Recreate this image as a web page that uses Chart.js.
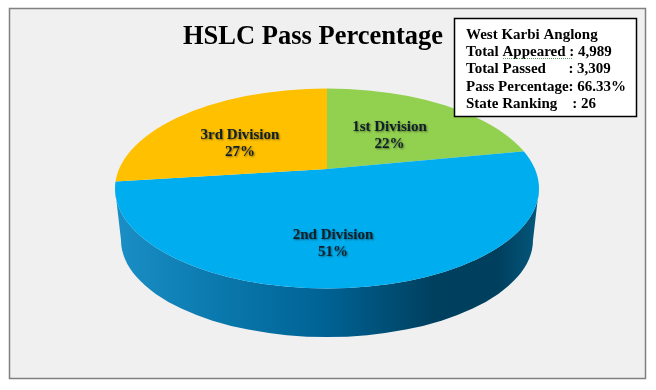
<!DOCTYPE html>
<html>
<head>
<meta charset="utf-8">
<style>
  html, body { margin: 0; padding: 0; background: #fff; }
  canvas { display: block; }
</style>
<script src="https://cdn.jsdelivr.net/npm/chart.js@4"></script>
</head>
<body>
<canvas id="pie-chart" width="656" height="390"></canvas>
<script>
// Datos
const categories = ['1st Division', '2nd Division', '3rd Division'];
const passShare = [22, 51, 27];
const sliceColors = ['#92d050', '#00aeef', '#ffc000'];
const infoLines = [
  'West Karbi Anglong',
  'Total Appeared : 4,989',
  'Total Passed      : 3,309',
  'Pass Percentage: 66.33%',
  'State Ranking    : 26'
];

// The slices meet above the middle of the ellipse, as in a perspective view
const vertex = { x: 327, y: 169 };
const disc = { x: 327, y: 188.5, rx: 212, ry: 100 };
const base = { x: 327, y: 240, rx: 206, ry: 97 };
const squash = 0.47;
// label position relative to the vertex
const labelOffset = [[62.5, -33], [6, 75], [-87, -25]];

const tilted3d = {
  id: 'tilted3d',
  beforeDraw(chart) {
    const ctx = chart.ctx;
    ctx.save();
    ctx.fillStyle = '#f0f0f0';
    ctx.strokeStyle = '#808080';
    ctx.lineWidth = 1.5;
    ctx.fillRect(9.5, 8.5, 636, 370);
    ctx.strokeRect(9.5, 8.5, 636, 370);
    ctx.restore();
  },
  beforeDatasetsDraw(chart) {
    const ctx = chart.ctx;
    const arc = chart.getDatasetMeta(0).data[0];
    // side wall
    const wall = ctx.createLinearGradient(disc.x - disc.rx, 0, disc.x + disc.rx, 0);
    wall.addColorStop(0, '#1a8fc6');
    wall.addColorStop(0.25, '#0a78ac');
    wall.addColorStop(0.5, '#006294');
    wall.addColorStop(0.75, '#00405f');
    wall.addColorStop(0.9, '#003f5e');
    wall.addColorStop(1, '#05577c');
    ctx.save();
    ctx.beginPath();
    ctx.ellipse(disc.x, disc.y, disc.rx, disc.ry, 0, Math.PI, 0, true);
    ctx.lineTo(base.x + base.rx, base.y);
    ctx.ellipse(base.x, base.y, base.rx, base.ry, 0, 0, Math.PI, false);
    ctx.closePath();
    ctx.fillStyle = wall;
    ctx.fill();
    ctx.restore();
    // top face: the library's arcs, flattened and cut to the ellipse
    ctx.save();
    ctx.beginPath();
    ctx.ellipse(disc.x, disc.y, disc.rx, disc.ry, 0, 0, Math.PI * 2);
    ctx.clip();
    ctx.translate(vertex.x, vertex.y);
    ctx.scale(1, squash);
    ctx.translate(-arc.x, -arc.y);
  },
  afterDatasetsDraw(chart) {
    const ctx = chart.ctx;
    ctx.restore();

    // slice labels
    const total = passShare.reduce((a, b) => a + b, 0);
    ctx.save();
    ctx.font = 'bold 15px "Liberation Serif"';
    ctx.textAlign = 'center';
    ctx.textBaseline = 'middle';
    ctx.fillStyle = '#10202a';
    ctx.shadowColor = 'rgba(0,0,0,0.45)';
    ctx.shadowBlur = 2;
    ctx.shadowOffsetX = 1;
    ctx.shadowOffsetY = 1;
    categories.forEach((name, i) => {
      const x = vertex.x + labelOffset[i][0];
      const y = vertex.y + labelOffset[i][1];
      ctx.fillText(name, x, y - 8.5);
      ctx.fillText(Math.round(passShare[i] / total * 100) + '%', x, y + 8.5);
    });
    ctx.restore();

    // info box
    ctx.save();
    ctx.fillStyle = '#fff';
    ctx.strokeStyle = '#000';
    ctx.lineWidth = 1.5;
    ctx.fillRect(454.5, 18.5, 182, 98);
    ctx.strokeRect(454.5, 18.5, 182, 98);
    ctx.fillStyle = '#000';
    ctx.font = 'bold 15px "Liberation Serif"';
    ctx.textBaseline = 'alphabetic';
    infoLines.forEach((line, i) => ctx.fillText(line, 466, 39 + i * 17.2));
    // spell-check squiggle under "Appeared"
    ctx.strokeStyle = '#5f9e6a';
    ctx.lineWidth = 1;
    ctx.setLineDash([1, 1]);
    ctx.beginPath();
    ctx.moveTo(503, 58.5);
    ctx.lineTo(572, 58.5);
    ctx.stroke();
    ctx.restore();
  }
};

const passChart = new Chart(document.getElementById('pie-chart'), {
  type: 'pie',
  data: {
    labels: categories,
    datasets: [{
      data: passShare,
      backgroundColor: sliceColors,
      borderWidth: 0,
      radius: 320,
      clip: false
    }]
  },
  options: {
    responsive: false,
    animation: false,
    events: [],
    layout: { padding: { right: 30 } },
    plugins: {
      legend: { display: false },
      tooltip: { enabled: false },
      title: {
        display: true,
        text: 'HSLC Pass Percentage',
        fullSize: false,
        color: '#000',
        padding: { top: 21, bottom: 8 },
        font: { family: '"Liberation Serif"', size: 26.5, weight: 'bold' }
      }
    }
  },
  plugins: [tilted3d]
});
</script>
</body>
</html>
